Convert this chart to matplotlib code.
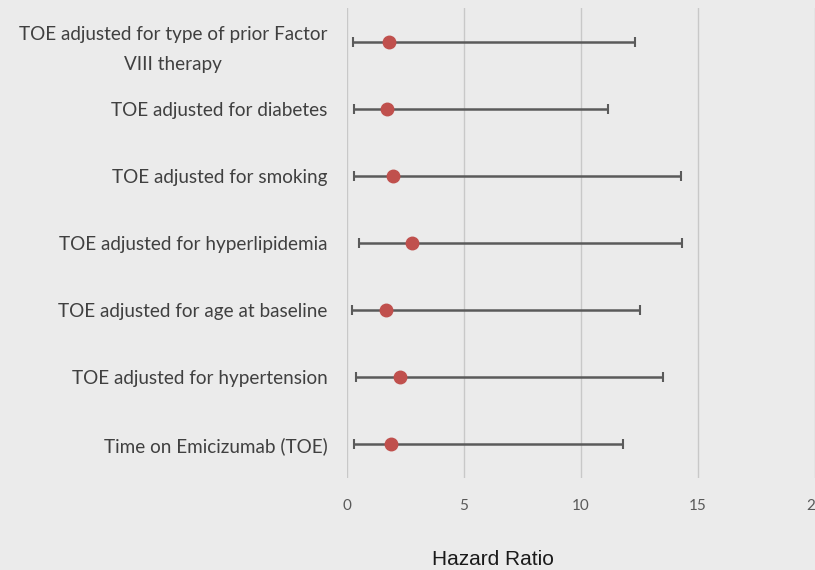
import matplotlib.pyplot as plt

plt.rcParams['font.family'] = ['Lato', 'DejaVu Sans']

# rows from top to bottom
labels = ["TOE adjusted for type of prior Factor\nVIII therapy",
          "TOE adjusted for diabetes",
          "TOE adjusted for smoking",
          "TOE adjusted for hyperlipidemia",
          "TOE adjusted for age at baseline",
          "TOE adjusted for hypertension",
          "Time on Emicizumab (TOE)"]
hr = [1.80, 1.71, 1.98, 2.76, 1.68, 2.25, 1.90]
ci_low = [0.24, 0.29, 0.29, 0.51, 0.21, 0.40, 0.32]
ci_high = [12.31, 11.15, 14.29, 14.33, 12.51, 13.50, 11.79]
xticks = [0, 5, 10, 15, 20]

bg = '#ebebeb'
fig = plt.figure(figsize=(8.15, 5.7), dpi=100, facecolor=bg)
ax = fig.add_axes([347 / 815, 92 / 570, 468 / 815, 470 / 570], facecolor=bg)

ypos = list(range(len(labels)))[::-1]
err_lo = [h - l for h, l in zip(hr, ci_low)]
err_hi = [u - h for h, u in zip(hr, ci_high)]

ax.errorbar(hr, ypos, xerr=[err_lo, err_hi], fmt='none', ecolor='#5a5a5a',
            elinewidth=1.8, capsize=3.6, capthick=1.5, zorder=3)
ax.plot(hr, ypos, 'o', color='#c0504d', markersize=9, zorder=4)

ax.set_xlim(0, 20)
ax.set_ylim(-0.5, len(labels) - 0.5)
ax.set_xticks(xticks)
ax.set_xticklabels([str(t) for t in xticks], color='#595959', fontsize=11)
ax.set_yticks(ypos)
ax.set_yticklabels(labels, fontsize=13.6, color='#404040')
for lab in ax.get_yticklabels():
    lab.set_multialignment('center')
    lab.set_linespacing(1.95)

ax.tick_params(axis='both', length=0)
ax.tick_params(axis='x', pad=15)
ax.tick_params(axis='y', pad=14)
ax.grid(axis='x', color='#c8c8c8', linewidth=1)
ax.set_axisbelow(True)
for s in ax.spines.values():
    s.set_visible(False)

ax.set_xlabel("Hazard Ratio", fontsize=15, family='Liberation Sans',
              color='#1a1a1a')
ax.xaxis.set_label_coords((493 - 347) / 468, -(550 - 478) / 470)

fig.savefig('out.png', dpi=100, facecolor=bg)
